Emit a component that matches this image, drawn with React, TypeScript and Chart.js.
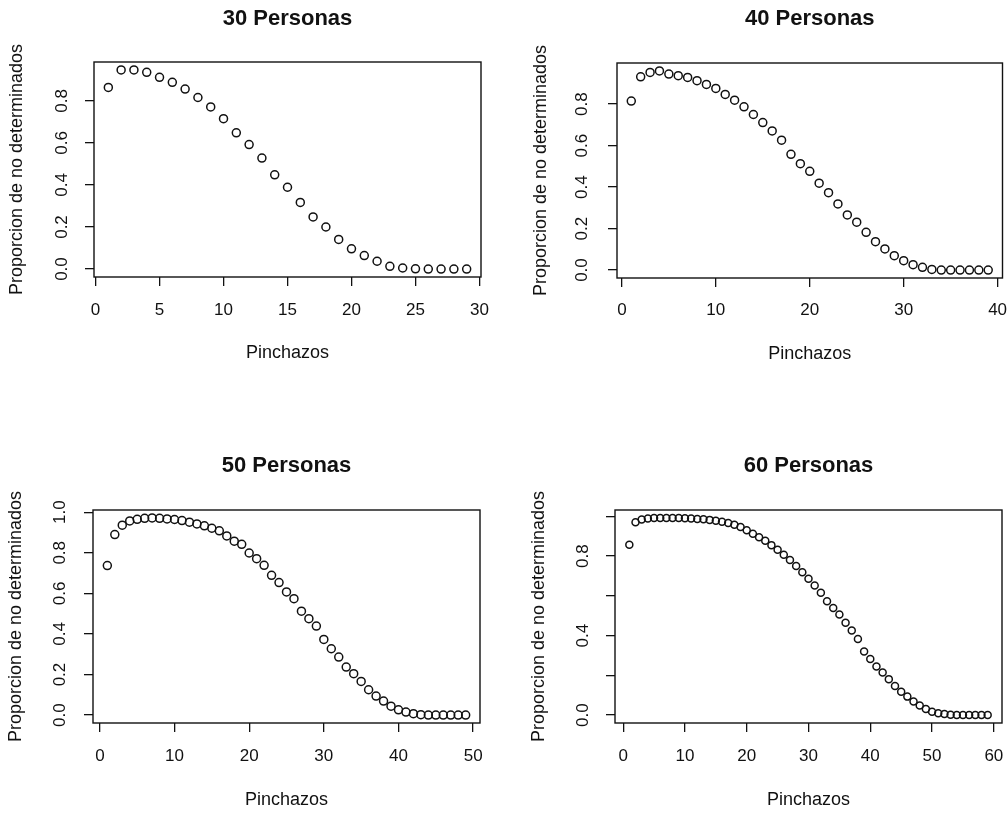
import React, { useEffect, useRef } from 'react';
import { Chart, registerables } from 'chart.js';

Chart.register(...registerables);

// ---- data ----
const panelTitles = ['30 Personas', '40 Personas', '50 Personas', '60 Personas'];
const xAxisTitle = 'Pinchazos';
const yAxisTitle = 'Proporcion de no determinados';

const prop30 = [0.864, 0.947, 0.947, 0.936, 0.912, 0.888, 0.856, 0.816, 0.771, 0.715,
  0.648, 0.592, 0.528, 0.448, 0.389, 0.317, 0.248, 0.200, 0.141, 0.096,
  0.064, 0.037, 0.013, 0.005, 0.001, 0, 0, 0, 0];

const prop40 = [0.815, 0.932, 0.953, 0.960, 0.945, 0.937, 0.929, 0.913, 0.895, 0.876,
  0.847, 0.819, 0.787, 0.750, 0.711, 0.671, 0.626, 0.558, 0.513, 0.476,
  0.419, 0.373, 0.319, 0.266, 0.231, 0.182, 0.137, 0.102, 0.069, 0.045,
  0.026, 0.013, 0.003, 0, 0, 0, 0, 0, 0];

const prop50 = [0.737, 0.890, 0.936, 0.957, 0.965, 0.970, 0.972, 0.970, 0.967, 0.964,
  0.959, 0.951, 0.942, 0.933, 0.921, 0.908, 0.883, 0.857, 0.842, 0.799,
  0.771, 0.738, 0.689, 0.653, 0.607, 0.574, 0.512, 0.475, 0.439, 0.373,
  0.327, 0.286, 0.237, 0.204, 0.166, 0.125, 0.094, 0.069, 0.044, 0.026,
  0.015, 0.007, 0.002, 0, 0, 0, 0, 0, 0];

const prop60 = [0.857, 0.970, 0.984, 0.989, 0.991, 0.992, 0.992, 0.992, 0.991, 0.990,
  0.989, 0.987, 0.985, 0.982, 0.978, 0.973, 0.966, 0.957, 0.946, 0.930,
  0.912, 0.895, 0.877, 0.855, 0.832, 0.807, 0.780, 0.750, 0.719, 0.686,
  0.652, 0.615, 0.573, 0.539, 0.506, 0.464, 0.425, 0.383, 0.320, 0.282,
  0.244, 0.214, 0.181, 0.147, 0.118, 0.093, 0.068, 0.048, 0.031, 0.017,
  0.009, 0.005, 0.002, 0, 0, 0, 0, 0, 0];

const panelValues = [prop30, prop40, prop50, prop60];
const xTickSteps = [5, 10, 10, 10];
const yTickStep = 0.2;
// which y tick labels are shown (R drops overlapping ones in the last panel)
const yLabelEvery = [1, 1, 1, 2];

// ---- layout (positions / sizes) ----
const geo = [
  { left: 0, top: 0, w: 504, h: 420, padR: 23, tpt: 5.8, tpb: 29.8, xh: 143, xtp: 13.8, xtb: 56.2, yw: 94, ytp: 11.2, ytt: 6.7, r: 4 },
  { left: 504, top: 0, w: 504, h: 420, padR: 5, tpt: 5.8, tpb: 30.8, xh: 142, xtp: 12.8, xtb: 55.2, yw: 113, ytp: 13.5, ytt: 26.2, r: 4 },
  { left: 0, top: 420, w: 504, h: 394, padR: 24, tpt: 32.3, tpb: 31.3, xh: 91, xtp: 14.5, xtb: 3.5, yw: 93, ytp: 11.4, ytt: 5, r: 4 },
  { left: 504, top: 420, w: 504, h: 394, padR: 6, tpt: 32.3, tpb: 31.3, xh: 91, xtp: 14.5, xtb: 3.5, yw: 111, ytp: 11.2, ytt: 24.2, r: 3.5 },
];

const FONT = '"Liberation Sans", Arial, Helvetica, sans-serif';
const INK = '#111111';

const boxPlugin = {
  id: 'plotBox',
  afterDraw(chart: any) {
    const { ctx, chartArea: a } = chart;
    ctx.save();
    ctx.strokeStyle = INK;
    ctx.lineWidth = 1.4;
    ctx.strokeRect(a.left, a.top, a.right - a.left, a.bottom - a.top);
    ctx.restore();
  },
};

function Panel({ idx }: { idx: number }) {
  const ref = useRef<HTMLCanvasElement>(null);
  const g = geo[idx];
  useEffect(() => {
    const values = panelValues[idx];
    const n = values.length;
    const xr = (n - 1) * 0.04;
    const ymax = Math.max(...values);
    const ymin = Math.min(...values);
    const yr = (ymax - ymin) * 0.04;
    const every = yLabelEvery[idx];
    const chart = new Chart(ref.current as HTMLCanvasElement, {
      type: 'scatter',
      data: {
        datasets: [
          {
            data: values.map((v, i) => ({ x: i + 1, y: v })),
            pointStyle: 'circle',
            pointRadius: g.r,
            pointBorderWidth: 1.5,
            pointBackgroundColor: 'rgba(0,0,0,0)',
            pointBorderColor: INK,
            showLine: false,
          } as any,
        ],
      },
      options: {
        responsive: false,
        animation: false,
        devicePixelRatio: 1,
        layout: { padding: { left: 0, right: g.padR, top: 0, bottom: 0 } },
        plugins: {
          legend: { display: false },
          tooltip: { enabled: false },
          title: {
            display: true,
            text: panelTitles[idx],
            fullSize: false,
            color: INK,
            font: { family: FONT, size: 22, weight: 'bold' },
            padding: { top: g.tpt, bottom: g.tpb },
          },
        },
        scales: {
          x: {
            type: 'linear',
            position: 'bottom',
            min: 1 - xr,
            max: n + xr,
            afterFit: (s: any) => {
              s.height = g.xh;
              s.paddingLeft = 0;
              s.paddingRight = 0;
            },
            border: { display: false },
            grid: { display: true, drawOnChartArea: false, drawTicks: true, tickLength: 9, color: INK, lineWidth: 1.3 },
            ticks: {
              stepSize: xTickSteps[idx],
              includeBounds: false,
              autoSkip: false,
              minRotation: 0,
              maxRotation: 0,
              padding: g.xtp,
              color: INK,
              font: { family: FONT, size: 17 },
            },
            title: {
              display: true,
              text: xAxisTitle,
              color: INK,
              font: { family: FONT, size: 18 },
              padding: { top: 0, bottom: g.xtb },
            },
          },
          y: {
            type: 'linear',
            position: 'left',
            min: ymin - yr,
            max: ymax + yr,
            afterFit: (s: any) => {
              s.width = g.yw;
              s.paddingTop = 0;
              s.paddingBottom = 0;
            },
            border: { display: false },
            grid: { display: true, drawOnChartArea: false, drawTicks: true, tickLength: 9, color: INK, lineWidth: 1.3 },
            ticks: {
              stepSize: yTickStep,
              includeBounds: false,
              autoSkip: false,
              minRotation: 90,
              maxRotation: 90,
              crossAlign: 'center',
              padding: g.ytp,
              color: INK,
              font: { family: FONT, size: 17 },
              callback: (v: any) => {
                const k = Math.round(Number(v) / yTickStep);
                return k % every === 0 ? Number(v).toFixed(1) : '';
              },
            },
            title: {
              display: true,
              text: yAxisTitle,
              color: INK,
              font: { family: FONT, size: 18 },
              padding: { top: g.ytt, bottom: 0 },
            },
          },
        },
      } as any,
      plugins: [boxPlugin],
    });
    return () => chart.destroy();
  }, [idx]);
  return (
    <canvas
      ref={ref}
      width={g.w}
      height={g.h}
      style={{ position: 'absolute', left: g.left, top: g.top, width: g.w, height: g.h }}
    />
  );
}

export default function App() {
  return (
    <div style={{ position: 'absolute', left: 0, top: 0, width: 1008, height: 814, background: '#fff', overflow: 'hidden' }}>
      {panelTitles.map((_, i) => (
        <Panel key={i} idx={i} />
      ))}
    </div>
  );
}
